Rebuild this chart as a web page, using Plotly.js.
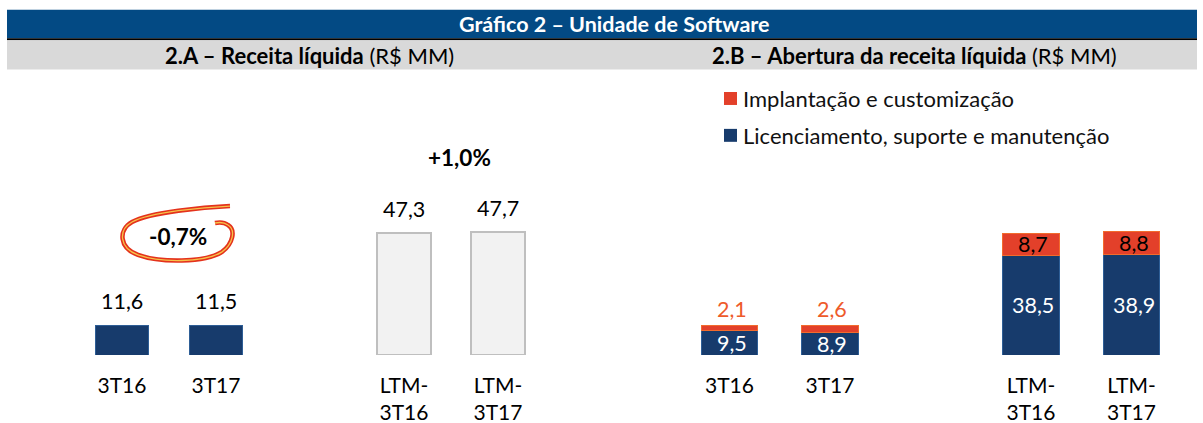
<!DOCTYPE html>
<html>
<head>
<meta charset="utf-8">
<script src="https://cdn.plot.ly/plotly-3.0.1.min.js"></script>
<style>html,body{margin:0;padding:0;background:#fff;}#chart{width:1203px;height:423px;}</style>
</head>
<body>
<div id="chart"></div>
<script>
// ---------- DATA ----------
const categories = ['3T16', '3T17', 'LTM-3T16', 'LTM-3T17'];
const tickLabels = ['3T16', '3T17', 'LTM-<br>3T16', 'LTM-<br>3T17'];
const receitaLiquida = [11.6, 11.5, 47.3, 47.7];
const licenciamento = [9.5, 8.9, 38.5, 38.9];
const implantacao = [2.1, 2.6, 8.7, 8.8];
const growthLabels = ['-0,7%', '+1,0%'];
const seriesNames = ['Implantação e customização', 'Licenciamento, suporte e manutenção'];
const chartTitle = 'Gráfico 2 – Unidade de Software';
const subtitleA = '<b>2.A – Receita líquida</b> (R$ MM)';
const subtitleB = '<b>2.B – Abertura da receita líquida</b> (R$ MM)';

// ---------- STYLE / GEOMETRY ----------
const W = 1203, H = 423;
const plotTop = 96.5, plotBottom = 355.5;
const BLUE = '#173B6C', BLUE_EDGE = '#2E5E96';
const ORANGE = '#E3402A', ORANGE_EDGE = '#F26B2D';
const GREY_FILL = '#F2F2F2', GREY_EDGE = '#BFBFBF';
const FONT = 'Lato, Carlito, Calibri, sans-serif';
const px2x = px => px / W;
const py2y = py => (plotBottom - py) / (plotBottom - plotTop);
const fmt = v => v.toFixed(1).replace('.', ',');
const gap = ' ';
const catOrder = [categories[0], categories[1], gap, categories[2], categories[3]];
const isLTM = c => c.indexOf('LTM') === 0;

// ---------- TRACES ----------
const traces = [
  {
    type: 'bar', x: categories, y: receitaLiquida, xaxis: 'x', yaxis: 'y',
    width: 0.574,
    marker: {
      color: categories.map(c => isLTM(c) ? GREY_FILL : BLUE),
      line: {color: categories.map(c => isLTM(c) ? GREY_EDGE : BLUE_EDGE), width: categories.map(c => isLTM(c) ? 2 : 1)}
    },
    hoverinfo: 'skip', showlegend: false
  },
  {
    type: 'bar', name: seriesNames[1], x: categories, y: licenciamento, xaxis: 'x2', yaxis: 'y2',
    width: 0.567, marker: {color: BLUE, line: {color: BLUE_EDGE, width: 1}},
    hoverinfo: 'skip', showlegend: false
  },
  {
    type: 'bar', name: seriesNames[0], x: categories, y: implantacao, xaxis: 'x2', yaxis: 'y2',
    width: 0.567, marker: {color: ORANGE, line: {color: ORANGE_EDGE, width: 1}},
    hoverinfo: 'skip', showlegend: false
  }
];

// ---------- ANNOTATIONS ----------
const annotations = [];
// header texts
annotations.push({xref: 'paper', yref: 'paper', x: px2x(614), y: py2y(23), text: '<b>' + chartTitle + '</b>',
  showarrow: false, xanchor: 'center', yanchor: 'middle', font: {family: FONT, size: 21.5, color: '#FFFFFF'}});
annotations.push({xref: 'paper', yref: 'paper', x: px2x(309), y: py2y(54.5), text: subtitleA,
  showarrow: false, xanchor: 'center', yanchor: 'middle', font: {family: FONT, size: 22, color: '#000000'}});
annotations.push({xref: 'paper', yref: 'paper', x: px2x(914), y: py2y(54.5), text: subtitleB,
  showarrow: false, xanchor: 'center', yanchor: 'middle', font: {family: FONT, size: 22, color: '#000000'}});

// left values
categories.forEach((c, i) => {
  annotations.push({xref: 'x', yref: 'y', x: c, y: receitaLiquida[i], yshift: 24, text: fmt(receitaLiquida[i]),
    showarrow: false, xanchor: 'center', yanchor: 'middle', font: {family: FONT, size: 21.5, color: '#000000'}});
});
// growth labels
annotations.push({xref: 'x', yref: 'paper', x: 0.5, xshift: 9, y: py2y(236.5), text: '<b>' + growthLabels[0] + '</b>',
  showarrow: false, xanchor: 'center', yanchor: 'middle', font: {family: FONT, size: 22.5, color: '#000000'}});
annotations.push({xref: 'x', yref: 'paper', x: 3.5, xshift: 8, y: py2y(157.5), text: '<b>' + growthLabels[1] + '</b>',
  showarrow: false, xanchor: 'center', yanchor: 'middle', font: {family: FONT, size: 22.5, color: '#000000'}});

// right values
categories.forEach((c, i) => {
  annotations.push({xref: 'x2', yref: 'y2', x: c, y: licenciamento[i] / 2, xshift: 2, text: fmt(licenciamento[i]),
    showarrow: false, xanchor: 'center', yanchor: 'middle', font: {family: FONT, size: 21.5, color: '#FFFFFF'}});
  const small = implantacao[i] < 5;
  annotations.push({xref: 'x2', yref: 'y2', x: c,
    y: small ? licenciamento[i] + implantacao[i] : licenciamento[i] + implantacao[i] / 2,
    yshift: small ? 16 : 0, xshift: 2, text: fmt(implantacao[i]),
    showarrow: false, xanchor: 'center', yanchor: 'middle',
    font: {family: FONT, size: 21.5, color: small ? '#EE5A2A' : '#000000'}});
});

// legend (manual)
const legendRows = [{name: seriesNames[0], color: ORANGE, cy: 98}, {name: seriesNames[1], color: BLUE, cy: 135}];
legendRows.forEach(r => {
  annotations.push({xref: 'paper', yref: 'paper', x: px2x(741), y: py2y(r.cy), text: r.name,
    showarrow: false, xanchor: 'left', yanchor: 'middle', font: {family: FONT, size: 22, color: '#111111'}});
});

// ---------- SHAPES ----------
const shapes = [
  {type: 'rect', xref: 'paper', yref: 'paper', x0: px2x(7), x1: px2x(1197), y0: py2y(9), y1: py2y(37.5), fillcolor: '#034A84', line: {width: 0}, layer: 'below'},
  {type: 'rect', xref: 'paper', yref: 'paper', x0: px2x(7), x1: px2x(1197), y0: py2y(37.5), y1: py2y(39.5), fillcolor: '#000000', line: {width: 0}, layer: 'below'},
  {type: 'rect', xref: 'paper', yref: 'paper', x0: px2x(7), x1: px2x(1197), y0: py2y(39.5), y1: py2y(69), fillcolor: '#D9D9D9', line: {width: 0}, layer: 'below'}
];
legendRows.forEach(r => {
  shapes.push({type: 'rect', xref: 'paper', yref: 'paper', x0: px2x(724), x1: px2x(737), y0: py2y(r.cy - 6.5), y1: py2y(r.cy + 6.5),
    fillcolor: r.color, line: {width: 0}});
});
// hand-drawn ring round -0,7%
const ringPts = [[230,206],[205,207],[150,212],[132,222],[118,230],[119,248],[138,255],[160,263],[205,263],[222,252],[233,244],[236,230],[228,225],[224,222],[220,222],[215,223]];
function ringPath() {
  const p = ringPts.map(q => [px2x(q[0]), py2y(q[1])]);
  let d = 'M ' + p[0][0] + ',' + p[0][1];
  for (let i = 1; i + 2 < p.length; i += 3) {
    d += ' C ' + p[i][0] + ',' + p[i][1] + ' ' + p[i+1][0] + ',' + p[i+1][1] + ' ' + p[i+2][0] + ',' + p[i+2][1];
  }
  return d;
}
shapes.push({type: 'path', xref: 'paper', yref: 'paper', path: ringPath(), line: {color: '#E4321C', width: 4.5}});
shapes.push({type: 'path', xref: 'paper', yref: 'paper', path: ringPath(), line: {color: '#F6C34A', width: 1.3}});

// ---------- LAYOUT ----------
const xaxisBase = {
  type: 'category', categoryorder: 'array', categoryarray: catOrder, range: [-0.5, 4.5],
  tickvals: categories, ticktext: tickLabels, showgrid: false, zeroline: false, showline: false,
  ticks: '', ticklabelstandoff: 16, tickfont: {family: FONT, size: 21, color: '#000000'}, fixedrange: true
};
const yaxisBase = {range: [0, 100], visible: false, showgrid: false, zeroline: false, fixedrange: true};

const layout = {
  width: W, height: H,
  margin: {l: 0, r: 0, t: plotTop, b: H - plotBottom, pad: 0},
  paper_bgcolor: '#FFFFFF', plot_bgcolor: 'rgba(0,0,0,0)',
  font: {family: FONT},
  barmode: 'stack', showlegend: false,
  xaxis: Object.assign({}, xaxisBase, {domain: [px2x(75), px2x(545)], anchor: 'y'}),
  yaxis: Object.assign({}, yaxisBase, {anchor: 'x'}),
  xaxis2: Object.assign({}, xaxisBase, {domain: [px2x(679.25), px2x(1181.75)], anchor: 'y2'}),
  yaxis2: Object.assign({}, yaxisBase, {anchor: 'x2'}),
  annotations: annotations, shapes: shapes
};

Plotly.newPlot('chart', traces, layout, {staticPlot: true, displayModeBar: false});
</script>
</body>
</html>
